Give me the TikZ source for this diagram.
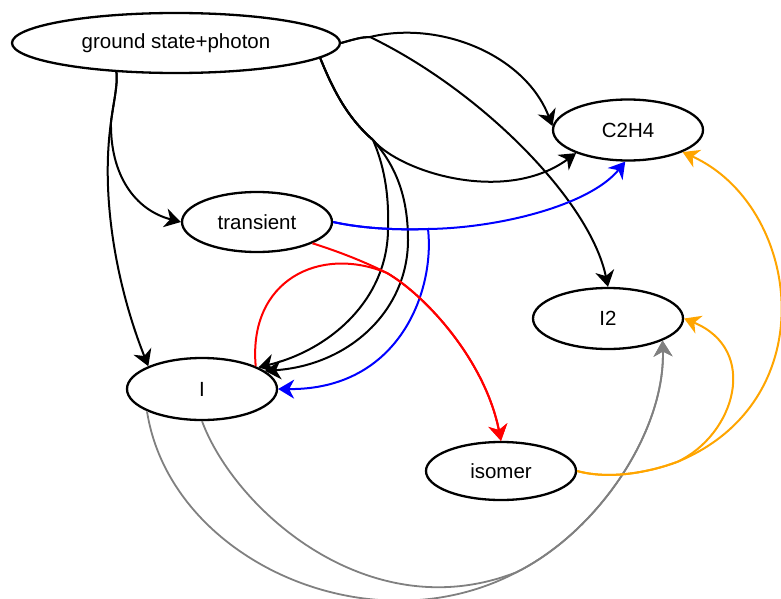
\documentclass[tikz,border=0pt]{standalone}
\usepackage{fontspec}
\setmainfont{Liberation Sans}
\usetikzlibrary{shapes.geometric,arrows.meta}
\definecolor{eorange}{RGB}{255,165,0}
\definecolor{egray}{RGB}{128,128,128}
\definecolor{eblue}{RGB}{0,0,255}
\definecolor{ered}{RGB}{255,0,0}
\tikzset{
  st/.style={ellipse, draw, line width=2.3pt, minimum width=150pt, minimum height=61pt,
    inner sep=0pt, font=\fontsize{20.5}{24}\selectfont},
  ed/.style={line width=2pt, -{Stealth[length=16pt,width=19pt,inset=5pt]}},
}
\begin{document}
\begin{tikzpicture}[x=1pt,y=-1pt]
\useasboundingbox (0,0) rectangle (781,599);
\node[st, minimum width=328pt, minimum height=60pt] (gs) at (176,43) {ground state+photon};
\node[st] (c2h4) at (628,130) {C2H4};
\node[st, minimum height=60pt] (tr) at (257,222) {transient};
\node[st, minimum height=62pt] (I) at (202,389) {I};
\node[st] (I2) at (608,318.5) {I2};
\node[st, minimum height=58pt] (iso) at (501,471) {isomer};
% junction points of bundled edges
\coordinate (b0) at (370,37);
\coordinate (b1) at (373,140);
\coordinate (b3) at (111,122);
\coordinate (b2) at (428,229);
\coordinate (m) at (387,273);
\coordinate (m3) at (517,572);
\coordinate (m4) at (677,462);
% black
\draw[ed] (gs.206) .. controls (118,85) and (113,105) .. (b3) .. controls (110,175) and (135,210) .. (tr.west);
\draw[ed] (gs.206) .. controls (118,85) and (113,105) .. (b3) .. controls (100,200) and (118,290) .. (I.157);
\draw[ed] (gs.east) .. controls (355,39) and (362,37) .. (b0) .. controls (440,20) and (525,55) .. (c2h4.177);
\draw[ed] (gs.east) .. controls (355,39) and (362,37) .. (b0) .. controls (480,90) and (590,200) .. (I2.north);
\draw[ed] (gs.-6) .. controls (335,95) and (350,120) .. (b1) .. controls (400,172) and (505,205) .. (c2h4.-156);
\draw[ed] (gs.-6) .. controls (335,95) and (350,120) .. (b1) .. controls (386,170) and (389,200) .. (388,230) .. controls (387,300) and (330,350) .. (I.21);
\draw[ed] (gs.-6) .. controls (335,95) and (350,120) .. (b1) .. controls (395,165) and (408,195) .. (408,240) .. controls (408,310) and (350,365) .. (I.16);
% blue
\draw[ed, eblue] (tr.east) .. controls (365,229) and (400,230) .. (b2) .. controls (500,228) and (590,205) .. (c2h4.-95);
\draw[ed, eblue] (tr.east) .. controls (365,229) and (400,230) .. (b2) .. controls (435,290) and (400,390) .. (I.east);
% red
\draw[ed, ered] (tr.-21) .. controls (340,252) and (365,262) .. (m) .. controls (425,295) and (485,360) .. (iso.north);
\draw[ed, ered] (I.23) .. controls (248,280) and (320,245) .. (m) .. controls (425,295) and (485,360) .. (iso.north);
% gray
\draw[ed, egray, line width=1.8pt] (I.202) .. controls (170,560) and (370,650) .. (m3) .. controls (600,530) and (665,430) .. (I2.-22);
\draw[ed, egray, line width=1.8pt] (I.south) .. controls (235,510) and (370,630) .. (m3) .. controls (600,530) and (665,430) .. (I2.-22);
% orange
\draw[ed, eorange] (iso.east) .. controls (610,480) and (650,472) .. (m4) .. controls (735,435) and (760,350) .. (I2.east);
\draw[ed, eorange] (iso.east) .. controls (610,480) and (650,472) .. (m4) .. controls (828,400) and (800,205) .. (c2h4.-22);
\end{tikzpicture}
\end{document}
